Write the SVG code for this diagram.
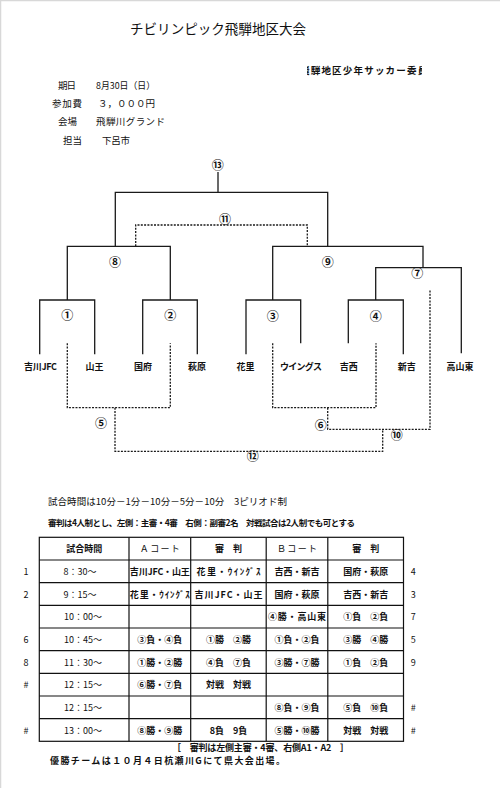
<svg xmlns="http://www.w3.org/2000/svg" width="500" height="788" viewBox="0 0 500 788">
<defs>
<style>
.t{font-family:"Noto Sans CJK JP","Noto Sans CJK SC",sans-serif;fill:#111;font-size:9px}
.b{font-weight:700}
.m{text-anchor:middle}
.cn{font-family:"Noto Sans CJK JP",sans-serif;font-size:12px;text-anchor:middle;fill:#111;font-weight:700}
.solid{stroke:#1a1a1a;stroke-width:1.3;fill:none}
.dot{stroke:#1a1a1a;stroke-width:1.3;fill:none;stroke-dasharray:2 1.3}
.grid{stroke:#111;stroke-width:1.2;fill:none}
</style>
<clipPath id="subclip"><rect x="307" y="60" width="115" height="20"/></clipPath>
</defs>
<rect x="0" y="0" width="500" height="788" fill="#fff"/>
<path d="M0.5,788 V0.5 H500" stroke="#d8d8d8" stroke-width="1.5" fill="none"/>

<g id="header">
<text class="t" x="130" y="34" style="font-size:13.5px" textLength="176" lengthAdjust="spacing">チビリンピック飛騨地区大会</text>
<text class="t b" x="300" y="73.5" clip-path="url(#subclip)" style="font-size:9.5px;letter-spacing:1.2px">飛騨地区少年サッカー委員会</text>
<text class="t" x="58" y="89" style="font-size:9.5px" textLength="18">期日</text>
<text class="t" x="96" y="89" style="font-size:9.5px" textLength="59" lengthAdjust="spacingAndGlyphs">8月30日（日）</text>
<text class="t" x="52" y="107" style="font-size:9.5px" textLength="30">参加費</text>
<text class="t" x="98" y="107" style="font-size:9.5px" textLength="57">３，０００円</text>
<text class="t" x="58" y="125" style="font-size:9.5px" textLength="19">会場</text>
<text class="t" x="96" y="125" style="font-size:9.5px" textLength="69">飛騨川グランド</text>
<text class="t" x="63" y="144" style="font-size:9.5px" textLength="19">担当</text>
<text class="t" x="102" y="144" style="font-size:9.5px" textLength="28">下呂市</text>
</g>

<g id="connectors">
<path class="solid" d="M218,172 V192.3 M115.3,246.3 V192.3 H327.7 V246.3"/>
<path class="solid" d="M67.3,300 V246.3 H170.3 V300"/>
<path class="solid" d="M272.7,300 V246.3 H423 V267.7"/>
<path class="solid" d="M375.7,300 V267.7 H461.3 V353.3"/>
<path class="solid" d="M39.7,354.3 V300 H94.7 V354.3"/>
<path class="solid" d="M142.7,354.3 V300 H197.3 V354.3"/>
<path class="solid" d="M246,354.3 V300 H300.7 V343.3"/>
<path class="solid" d="M348.3,343.3 V300 H403.3 V354.3"/>
<path class="dot" d="M135.7,246.3 V225 H307.3 V246.3"/>
<path class="dot" d="M67.3,343.3 V407.7 H170.3 V343.3"/>
<path class="dot" d="M115,407.7 V451.3 H382.7 V429.3"/>
<path class="dot" d="M272.7,343.3 V407.7 H376 V343.3"/>
<path class="dot" d="M327.7,407.7 V429.3 H430 V290"/>
</g>

<g id="m13"><text class="cn" x="217.7" y="170.3">⑬</text></g>
<g id="m11"><text class="cn" x="225" y="224.3">⑪</text></g>
<g id="m8"><text class="cn" x="115" y="267">⑧</text></g>
<g id="m9"><text class="cn" x="327.7" y="267">⑨</text></g>
<g id="m7"><text class="cn" x="417.3" y="278.3">⑦</text></g>
<g id="m1"><text class="cn" x="67.3" y="320.3">①</text></g>
<g id="m2"><text class="cn" x="170.3" y="320.3">②</text></g>
<g id="m3"><text class="cn" x="272.7" y="321">③</text></g>
<g id="m4"><text class="cn" x="375.7" y="321">④</text></g>
<g id="m5"><text class="cn" x="101" y="428.3">⑤</text></g>
<g id="m6"><text class="cn" x="320.7" y="430.3">⑥</text></g>
<g id="m10"><text class="cn" x="396.7" y="440">⑩</text></g>
<g id="m12"><text class="cn" x="252.7" y="461">⑫</text></g>

<g id="team-furukawa"><text class="t b m" x="40.5" y="369.5" textLength="33">吉川JFC</text></g>
<g id="team-sanno"><text class="t b m" x="94.5" y="369.5">山王</text></g>
<g id="team-kokufu"><text class="t b m" x="143" y="369.5">国府</text></g>
<g id="team-hagiwara"><text class="t b m" x="197" y="369.5">萩原</text></g>
<g id="team-hanasato"><text class="t b m" x="245.5" y="369.5">花里</text></g>
<g id="team-wings"><text class="t b m" x="301" y="369.5" textLength="42">ウイングス</text></g>
<g id="team-yoshinishi"><text class="t b m" x="348.8" y="369.5">吉西</text></g>
<g id="team-shinyoshi"><text class="t b m" x="406.7" y="369.5">新吉</text></g>
<g id="team-takayamahigashi"><text class="t b m" x="460" y="369.5">高山東</text></g>

<g id="rules">
<text class="t" x="48" y="505" style="font-size:9.5px" textLength="239">試合時間は10分－1分－10分－5分－10分　3ピリオド制</text>
<text class="t b" x="48" y="526" style="font-size:8.5px" textLength="307">審判は4人制とし、左側：主審・4審　右側：副審2名　対戦試合は2人制でも可とする</text>
</g>

<g id="table">
<rect class="grid" x="39.3" y="537.3" width="364.2" height="204"/>
<path class="grid" d="M129,537.3 V741.3 M190.7,537.3 V741.3 M266.2,537.3 V741.3 M327.8,537.3 V741.3
M39.3,560 H403.5 M39.3,582.7 H403.5 M39.3,605.3 H403.5 M39.3,628 H403.5 M39.3,650.7 H403.5 M39.3,673.3 H403.5 M39.3,696 H403.5 M39.3,718.7 H403.5"/>
<g class="t m">
<text x="84.2" y="552.2" class="b">試合時間</text>
<text x="159.8" y="552.2" textLength="40">Ａコート</text>
<text x="228.5" y="552.2" class="b" xml:space="preserve">審　判</text>
<text x="297" y="552.2" textLength="40">Ｂコート</text>
<text x="365.7" y="552.2" class="b" xml:space="preserve">審　判</text>

<text x="26" y="574.9">1</text>
<text x="80" y="574.9">8：30～</text>
<text x="159.8" y="574.9" class="b" textLength="60">吉川JFC・山王</text>
<text x="228.5" y="574.9" class="b" textLength="64">花里・ｳｲﾝｸﾞｽ</text>
<text x="297" y="574.9" class="b">吉西・新吉</text>
<text x="365.7" y="574.9" class="b">国府・萩原</text>
<text x="413.3" y="574.9">4</text>

<text x="26" y="597.6">2</text>
<text x="80" y="597.6">9：15～</text>
<text x="159.8" y="597.6" class="b" textLength="60">花里・ｳｲﾝｸﾞｽ</text>
<text x="228.5" y="597.6" class="b" textLength="68">吉川JFC・山王</text>
<text x="297" y="597.6" class="b">国府・萩原</text>
<text x="365.7" y="597.6" class="b">吉西・新吉</text>
<text x="413.3" y="597.6">3</text>

<text x="83" y="620.2">10：00～</text>
<text x="297" y="620.2" class="b" textLength="58">④勝・高山東</text>
<text x="365.7" y="620.2" class="b" xml:space="preserve">①負　②負</text>
<text x="413.3" y="620.2">7</text>

<text x="26" y="642.9">6</text>
<text x="83" y="642.9">10：45～</text>
<text x="159.8" y="642.9" class="b">③負・④負</text>
<text x="228.5" y="642.9" class="b" xml:space="preserve">①勝　②勝</text>
<text x="297" y="642.9" class="b">①負・②負</text>
<text x="365.7" y="642.9" class="b" xml:space="preserve">③勝　④勝</text>
<text x="413.3" y="642.9">5</text>

<text x="26" y="665.6">8</text>
<text x="83" y="665.6">11：30～</text>
<text x="159.8" y="665.6" class="b">①勝・②勝</text>
<text x="228.5" y="665.6" class="b" xml:space="preserve">④負　⑦負</text>
<text x="297" y="665.6" class="b">③勝・⑦勝</text>
<text x="365.7" y="665.6" class="b" xml:space="preserve">①負　②負</text>
<text x="413.3" y="665.6">9</text>

<text x="26" y="688.2">#</text>
<text x="83" y="688.2">12：15～</text>
<text x="159.8" y="688.2" class="b">⑥勝・⑦負</text>
<text x="228.5" y="688.2" class="b" xml:space="preserve">対戦　対戦</text>

<text x="83" y="710.9">12：15～</text>
<text x="297" y="710.9" class="b">⑧負・⑨負</text>
<text x="365.7" y="710.9" class="b" xml:space="preserve">⑤負　⑩負</text>
<text x="413.3" y="710.9">#</text>

<text x="26" y="733.6">#</text>
<text x="83" y="733.6">13：00～</text>
<text x="159.8" y="733.6" class="b">⑧勝・⑨勝</text>
<text x="228.5" y="733.6" class="b" xml:space="preserve">8負　9負</text>
<text x="297" y="733.6" class="b">⑤勝・⑩勝</text>
<text x="365.7" y="733.6" class="b" xml:space="preserve">対戦　対戦</text>
<text x="413.3" y="733.6">#</text>
</g>
</g>

<g id="notes">
<text class="t b" x="172" y="750.5" textLength="177" xml:space="preserve">［　審判は左側主審・4審、右側A1・A2　］</text>
<text class="t b" x="50" y="763.5" textLength="235">優勝チームは１０月４日杭瀬川Gにて県大会出場。</text>
</g>
</svg>
